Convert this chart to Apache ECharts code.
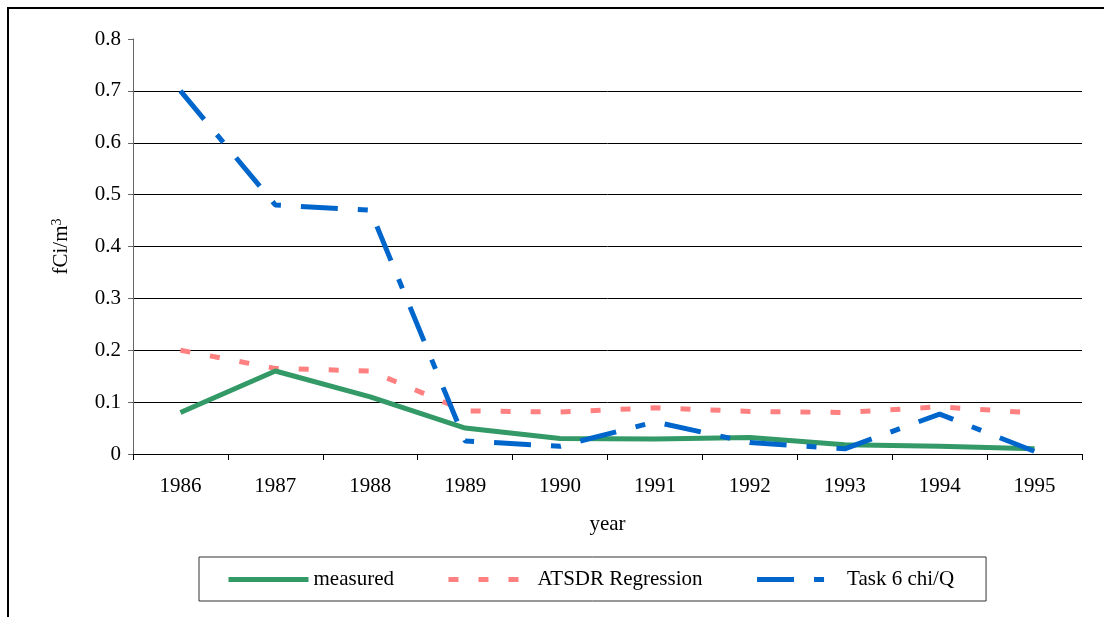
<!DOCTYPE html>
<html>
<head>
<meta charset="utf-8">
<script src="https://cdn.jsdelivr.net/npm/echarts@6/dist/echarts.min.js"></script>
<style>
  html, body { margin: 0; padding: 0; background: #fff; }
  #frame { position: absolute; left: 7px; top: 7px; width: 1097px; height: 610px;
           border-top: 2px solid #000; border-left: 2px solid #000; }
  #main { position: absolute; left: 0; top: 0; width: 1104px; height: 617px; }
</style>
</head>
<body>
<div id="frame"></div>
<div id="main"></div>
<script>
const years = ['1986', '1987', '1988', '1989', '1990', '1991', '1992', '1993', '1994', '1995'];
const measured = [0.08, 0.16, 0.11, 0.05, 0.03, 0.029, 0.032, 0.018, 0.015, 0.01];
const atsdrRegression = [0.2, 0.165, 0.16, 0.083, 0.081, 0.089, 0.082, 0.08, 0.091, 0.079];
const task6ChiQ = [0.7, 0.48, 0.47, 0.025, 0.015, 0.062, 0.022, 0.01, 0.077, 0.005];

const font = '"Liberation Serif", "Times New Roman", serif';

// line looks, shared by series and legend icons
const greenLine = {color: '#339966', width: 5, type: 'solid'};
const pinkLine = {color: '#ff8080', width: 5, type: [10, 20]};
const blueLine = {color: '#0066cc', width: 5, type: [37, 20, 10, 20]};

const chart = echarts.init(document.getElementById('main'), null, {renderer: 'canvas'});
const option = {
    animation: false,
    textStyle: {fontFamily: font},
    grid: {left: 133, right: 22, top: 39, bottom: 163},
    legend: {
        left: 199,
        top: 557,
        padding: [12, 32, 11, 27],
        borderColor: '#333',
        borderWidth: 1,
        itemWidth: 80,
        itemHeight: 14,
        itemGap: 52,
        itemStyle: {opacity: 0},
        textStyle: {fontFamily: font, fontSize: 21, color: '#000'},
        data: [
            {name: 'measured', lineStyle: greenLine, itemStyle: {opacity: 0}},
            {name: 'ATSDR Regression', lineStyle: pinkLine, itemStyle: {opacity: 0},
                textStyle: {padding: [0, 0, 0, 4]}},
            {name: 'Task 6 chi/Q', lineStyle: blueLine, itemStyle: {opacity: 0},
                textStyle: {padding: [0, 0, 0, 5]}}
        ]
    },
    xAxis: {
        type: 'category',
        data: years,
        name: 'year',
        nameLocation: 'middle',
        nameGap: 60,
        nameTextStyle: {fontFamily: font, fontSize: 21, color: '#000'},
        axisLine: {lineStyle: {color: '#000', width: 1}},
        axisTick: {show: true, length: 6, lineStyle: {color: '#000'}},
        axisLabel: {fontFamily: font, fontSize: 21, color: '#000', margin: 22}
    },
    yAxis: {
        type: 'value',
        min: 0,
        max: 0.8,
        interval: 0.1,
        name: '{a|fCi/m}{s|3}',
        nameLocation: 'middle',
        nameGap: 61,
        nameRotate: 90,
        nameTextStyle: {
            rich: {
                a: {fontFamily: font, fontSize: 21, color: '#000'},
                s: {fontFamily: font, fontSize: 14, color: '#000', verticalAlign: 'top', padding: [0, 0, 8, 0]}
            }
        },
        axisLine: {show: true, lineStyle: {color: '#666', width: 1}},
        axisTick: {show: true, length: 5, lineStyle: {color: '#666'}},
        axisLabel: {fontFamily: font, fontSize: 21, color: '#000', margin: 12},
        splitLine: {show: true, showMaxLine: false, lineStyle: {color: '#000', width: 1}}
    },
    series: [
        {
            name: 'measured',
            type: 'line',
            data: measured,
            symbol: 'none',
            z: 3,
            lineStyle: greenLine,
            itemStyle: {color: greenLine.color}
        },
        {
            name: 'ATSDR Regression',
            type: 'line',
            data: atsdrRegression,
            symbol: 'none',
            z: 2,
            lineStyle: pinkLine,
            itemStyle: {color: pinkLine.color}
        },
        {
            name: 'Task 6 chi/Q',
            type: 'line',
            data: task6ChiQ,
            symbol: 'none',
            z: 4,
            lineStyle: blueLine,
            itemStyle: {color: blueLine.color}
        }
    ]
};
option && chart.setOption(option);
</script>
</body>
</html>
